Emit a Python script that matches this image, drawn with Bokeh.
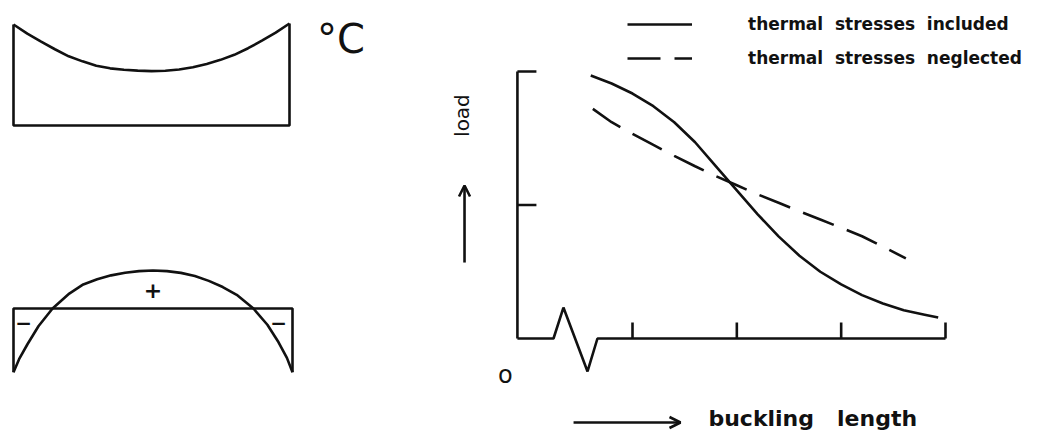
import math
from bokeh.plotting import figure
from bokeh.models import Range1d, Arrow, OpenHead, Legend, LegendItem
from bokeh.core.properties import value
from bokeh.embed import file_html
from bokeh.resources import INLINE

# ---------------- data ----------------
# temperature distribution across the section (top-left sketch)
temp_pos = [0.0, 0.05, 0.1, 0.15, 0.2, 0.25, 0.3, 0.35, 0.4, 0.45, 0.5,
            0.55, 0.6, 0.65, 0.7, 0.75, 0.8, 0.85, 0.9, 0.95, 1.0]
temp_val = [1.0, 0.91, 0.83, 0.755, 0.685, 0.635, 0.592, 0.566, 0.552, 0.543, 0.538,
            0.542, 0.555, 0.576, 0.61, 0.65, 0.70, 0.765, 0.84, 0.92, 1.01]

# thermal stress distribution (bottom-left sketch)
stress_pos = [0.0, 0.02, 0.05, 0.09, 0.14, 0.2, 0.25, 0.3, 0.35, 0.4, 0.45, 0.5,
              0.55, 0.6, 0.65, 0.7, 0.75, 0.8, 0.86, 0.91, 0.95, 0.98, 1.0]
stress_val = [-0.98, -0.78, -0.55, -0.27, 0.0, 0.23, 0.37, 0.45, 0.51, 0.55, 0.575, 0.585,
              0.575, 0.548, 0.5, 0.425, 0.33, 0.21, 0.0, -0.25, -0.52, -0.76, -0.98]

# load vs buckling length
incl_len = [0.6, 0.8, 1.0, 1.2, 1.4, 1.6, 1.8, 2.0, 2.2, 2.4, 2.6, 2.8, 3.0, 3.2, 3.4, 3.6, 3.8, 3.93]
incl_load = [1.97, 1.91, 1.835, 1.74, 1.62, 1.47, 1.29, 1.11, 0.93, 0.765, 0.62, 0.50, 0.405,
             0.325, 0.262, 0.212, 0.178, 0.157]
negl_len = [0.62, 0.8, 1.0, 1.2, 1.4, 1.6, 1.8, 2.0, 2.2, 2.4, 2.6, 2.8, 3.0, 3.2, 3.4, 3.62]
negl_load = [1.72, 1.62, 1.533, 1.45, 1.368, 1.29, 1.216, 1.148, 1.079, 1.017, 0.953, 0.891,
             0.829, 0.766, 0.688, 0.60]

buckling_ticks = [1, 2, 3, 4]
load_ticks = [1, 2]
axis_start = -0.103                 # broken axis: origin
break_len = [0.243, 0.338, 0.569, 0.664]
break_load = [0.0, 0.232, -0.247, 0.0]

labels = ["thermal\u00a0 stresses\u00a0 included", "thermal\u00a0 stresses\u00a0 neglected"]

# ---------------- layout ----------------
W, H = 1062, 433

def rng(v0, px0, v1, px1, total):
    k = (v1 - v0) / (px1 - px0)
    return Range1d(start=v0 - px0 * k, end=v0 + (total - px0) * k)

# main chart: buckling length 1 -> x=632, 4 -> x=945 ; load 0 -> y=338, 2 -> y=71 (from top)
xr = rng(1, 632, 4, 945, W)
yr = rng(0, H - 338, 2, H - 71, H)

p = figure(width=W, height=H, x_range=xr, y_range=yr, output_backend="svg",
           toolbar_location=None, x_axis_type=None, y_axis_type=None, min_border=0)
p.grid.visible = False
p.outline_line_color = None
p.background_fill_color = "white"
p.border_fill_color = "white"

p.extra_x_ranges = {"tpos": rng(0, 13, 1, 289, W), "spos": rng(0, 13, 1, 292, W)}
p.extra_y_ranges = {"tval": rng(0, H - 125, 1, H - 24, H), "sval": rng(0, H - 308, 1, H - 243, H)}

INK = "#111111"
LW = 2.6
FONT = "DejaVu Sans"

# ---- temperature sketch ----
p.line(temp_pos, temp_val, line_color=INK, line_width=LW, line_join="round",
       x_range_name="tpos", y_range_name="tval")
p.line([0, 0, 1, 1], [temp_val[0], 0, 0, temp_val[-1]], line_color=INK, line_width=LW,
       x_range_name="tpos", y_range_name="tval")
p.text(x=[1.1], y=[0.86], text=["°C"], text_font=value(FONT), text_font_size="40px",
       text_baseline="middle", text_align="left", text_color=INK,
       x_range_name="tpos", y_range_name="tval")

# ---- stress sketch ----
p.line(stress_pos, stress_val, line_color=INK, line_width=LW, line_join="round",
       x_range_name="spos", y_range_name="sval")
p.line([0, 0, 1, 1], [stress_val[0], 0, 0, stress_val[-1]], line_color=INK, line_width=LW,
       x_range_name="spos", y_range_name="sval")
p.text(x=[0.5], y=[0.28], text=["+"], text_font=value(FONT), text_font_size="22px",
       text_font_style="bold", text_baseline="middle", text_align="center", text_color=INK,
       x_range_name="spos", y_range_name="sval")
p.text(x=[0.036, 0.95], y=[-0.23, -0.22], text=["\u2212", "\u2212"], text_font=value(FONT),
       text_font_size="20px", text_font_style="bold", text_baseline="middle",
       text_align="center", text_color=INK, x_range_name="spos", y_range_name="sval")

# ---- load chart axes ----
p.line([axis_start, axis_start], [0, load_ticks[-1]], line_color=INK, line_width=LW)
p.line([axis_start] + break_len + [buckling_ticks[-1]], [0] + break_load + [0],
       line_color=INK, line_width=LW)
p.ray(x=buckling_ticks, y=[0] * len(buckling_ticks), length=16, length_units="screen",
      angle=math.pi / 2, line_color=INK, line_width=LW)
p.ray(x=[axis_start] * len(load_ticks), y=load_ticks, length=19, length_units="screen",
      angle=0, line_color=INK, line_width=LW)

# ---- curves ----
r_incl = p.line(incl_len, incl_load, line_color=INK, line_width=LW, line_join="round")
r_negl = p.line(negl_len, negl_load, line_color=INK, line_width=LW, line_dash="33 14")

legend = Legend(items=[LegendItem(label=labels[0], renderers=[r_incl]),
                       LegendItem(label=labels[1], renderers=[r_negl])],
                location=(627, 365), glyph_width=65, glyph_height=20, label_height=20,
                label_width=20, spacing=14, label_standoff=56, padding=0, margin=0,
                border_line_color=None, background_fill_alpha=0,
                label_text_font=FONT, label_text_font_size="17px",
                label_text_font_style="bold", label_text_color=INK)
p.add_layout(legend)

# ---- axis labels ----
p.text(x=[axis_start], y=[0], text=["o"], text_font=value(FONT), text_font_size="24px",
       x_offset=-12, y_offset=36, text_align="center", text_baseline="alphabetic", text_color=INK)

p.text(x=[-0.63], y=[1.67], text=["load"], text_font=value(FONT), text_font_size="20px",
       angle=math.pi / 2, text_align="center", text_baseline="middle", text_color=INK)
p.add_layout(Arrow(end=OpenHead(size=11, line_width=LW, line_color=INK),
                   x_start=-0.61, y_start=0.569, x_end=-0.61, y_end=1.146,
                   line_width=LW, line_color=INK))

p.add_layout(Arrow(end=OpenHead(size=11, line_width=LW, line_color=INK),
                   x_start=0.435, y_start=-0.629, x_end=1.46, y_end=-0.629,
                   line_width=LW, line_color=INK))
p.text(x=[1.728], y=[-0.60], text=["buckling\u00a0\u00a0 length"], text_font=value(FONT),
       text_font_size="22px", text_font_style="bold", text_align="left",
       text_baseline="middle", text_color=INK)

open("out.html", "w").write(file_html(p, INLINE))
